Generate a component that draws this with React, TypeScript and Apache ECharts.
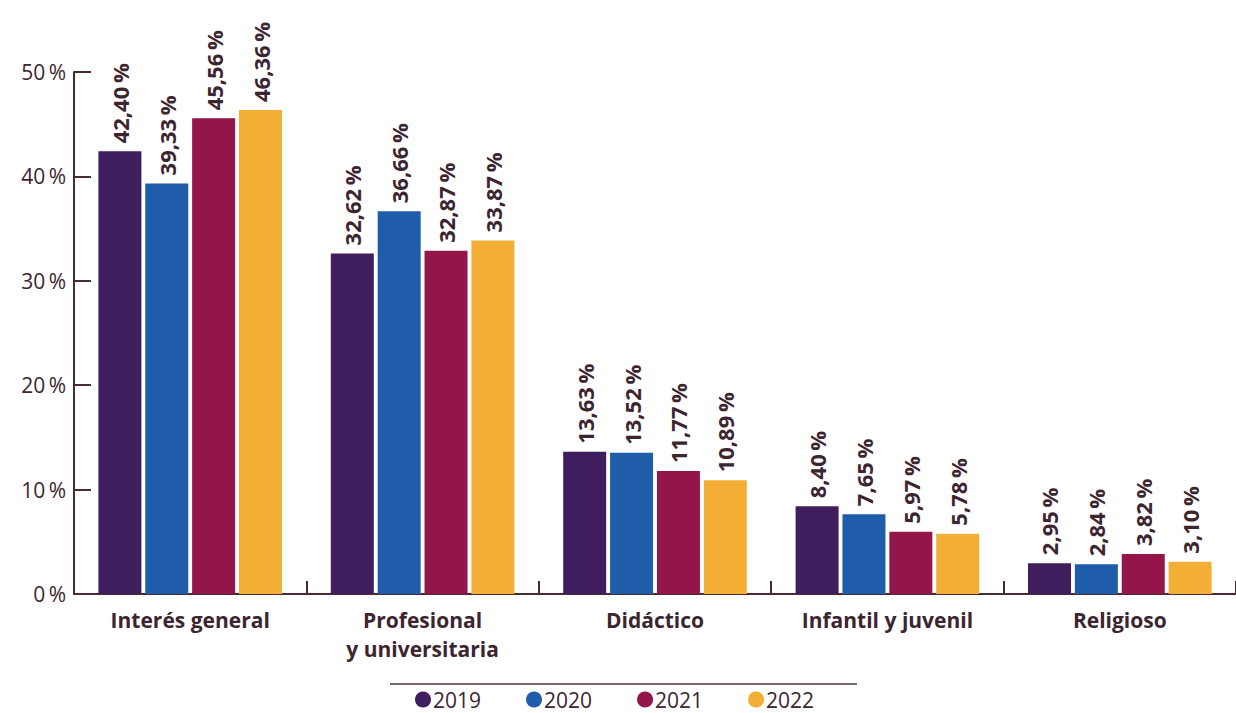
import React, { useEffect, useRef } from "react";
import * as echarts from "echarts";

const categories = ["Interés general", "Profesional\ny universitaria", "Didáctico", "Infantil y juvenil", "Religioso"];
const years = ["2019", "2020", "2021", "2022"];
const v2019 = [42.4, 32.62, 13.63, 8.4, 2.95];
const v2020 = [39.33, 36.66, 13.52, 7.65, 2.84];
const v2021 = [45.56, 32.87, 11.77, 5.97, 3.82];
const v2022 = [46.36, 33.87, 10.89, 5.78, 3.1];
const colors = ["#3f1e5e", "#1f5dab", "#93154a", "#f3ae36"];

const TXT = "#3d2530";
const FONT = "'Open Sans', Lato, sans-serif";

export default function App() {
  const ref = useRef<HTMLDivElement>(null);
  useEffect(() => {
    const chart = echarts.init(ref.current!, undefined, { renderer: "svg" });
    const all = [v2019, v2020, v2021, v2022];
    chart.setOption({
      animation: false,
      textStyle: { fontFamily: FONT },
      grid: { left: 74, right: -6, top: 72, bottom: 119, containLabel: false },
      legend: {
        data: years,
        top: 689,
        left: 415,
        padding: 0,
        icon: "circle",
        itemWidth: 16,
        itemHeight: 16,
        itemGap: 45,
        textStyle: { fontSize: 21, lineHeight: 18, color: TXT, fontFamily: FONT, padding: [0, 0, 0, -3] },
      },
      graphic: [
        {
          type: "line",
          shape: { x1: 390, y1: 684, x2: 857, y2: 684 },
          style: { stroke: "#7a676e", lineWidth: 2 },
        },
      ],
      xAxis: {
        type: "category",
        data: categories,
        axisLine: { lineStyle: { color: "#4a2a35", width: 2 } },
        axisTick: { show: true, inside: true, length: 13, lineStyle: { color: "#4a2a35", width: 2 } },
        axisLabel: {
          color: TXT,
          fontSize: 21,
          fontWeight: "bold",
          margin: 11,
          lineHeight: 29,
          fontFamily: FONT,
        },
      },
      yAxis: {
        type: "value",
        min: 0,
        max: 50,
        interval: 10,
        axisLine: { show: true, lineStyle: { color: "#4a2a35", width: 2 } },
        axisTick: { show: true, inside: true, length: 17, lineStyle: { color: "#4a2a35", width: 2 } },
        splitLine: { show: false },
        axisLabel: {
          color: TXT,
          fontSize: 21,
          margin: 8,
          fontFamily: FONT,
          formatter: (v: number) => v + "\u2009%",
        },
      },
      series: years.map((y, i) => ({
        name: y,
        type: "bar",
        data: all[i],
        barWidth: 43,
        barGap: "9%",
        itemStyle: { color: colors[i] },
        label: {
          show: true,
          position: "top",
          rotate: 90,
          align: "left",
          verticalAlign: "middle",
          distance: 8,
          color: TXT,
          fontSize: 22,
          fontWeight: "bold",
          fontFamily: FONT,
          formatter: (p: any) => p.value.toFixed(2).replace(".", ",") + "\u2009%",
        },
      })),
    });
    return () => chart.dispose();
  }, []);
  return (
    <div
      ref={ref}
      style={{ position: "fixed", left: 0, top: 0, width: "1236px", height: "713px", background: "#fff" }}
    />
  );
}
